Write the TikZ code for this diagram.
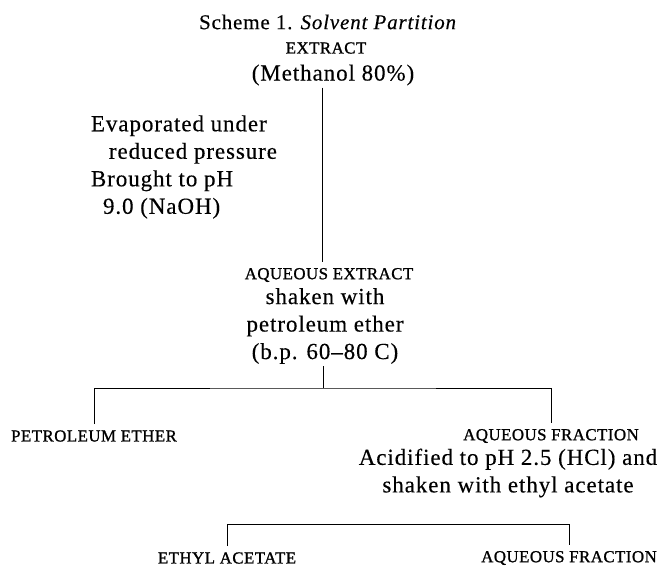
\documentclass[tikz,border=0pt]{standalone}
\usepackage{fontspec}
\setmainfont{Liberation Serif}[LetterSpace=4,FakeBold=0.3]
\newfontfamily\capsfont{Liberation Serif}[LetterSpace=3,FakeBold=1.2]
\usetikzlibrary{positioning}
\tikzset{txt/.style={inner sep=2pt,font=\fontsize{23}{27.5}\selectfont},
  lab/.style={inner sep=6pt,font=\capsfont\fontsize{16.8}{18}\selectfont},
  link/.style={line width=0.9pt}}

\begin{document}
\begin{tikzpicture}[x=1pt,y=-1pt]
        \useasboundingbox (0,0) rectangle (660,570);
        % Heading and starting material
        \node[font=\fontsize{21}{24}\selectfont] (title) at (328,22) 
        {Scheme 1. \textit{Solvent Partition}};
        \node[lab,inner sep=2pt] (extract) at (326,48) {EXTRACT};
        \node[txt] (methanol) at (333,75) {(Methanol 80\%)};
        % Treatment of the extract
        \node[txt,align=left] (steps) at (184,167) 
        {Evaporated under\\\hspace{18pt}reduced pressure\\
         Brought to pH\\\hspace{12pt}9.0 (NaOH)};
        \coordinate (trunk) at (322,0);
        % Aqueous extract
        \node[lab] (aqext) at (329,275) {AQUEOUS EXTRACT};
        \node[txt,align=center] (shake) at (325,326) 
        {shaken with\\petroleum ether\\(b.p. 60--80 C)};
        \draw[link] (methanol.south -| trunk) -- (aqext.north -| trunk);
        % First partition
        \coordinate (fork1) at (323,388);
        \node[lab] (petrol) at (94,436) {PETROLEUM ETHER};
        \node[lab] (aqfrac) at (551,436) {AQUEOUS FRACTION};
        \draw[link] (shake.south -| fork1) -- (fork1);
        \draw[link] (petrol.north) |- (fork1) -| (aqfrac.north);
        \node[txt,align=center] (acid) at (508,473) 
        {Acidified to pH 2.5 (HCl) and\\shaken with ethyl acetate};
        % Second partition
        \coordinate (fork2) at (400,524);
        \node[lab] (ethyl) at (227,558) {ETHYL ACETATE};
        \node[lab] (aqfrac2) at (569,558) {AQUEOUS FRACTION};
        \draw[link] (ethyl.north) |- (fork2) -| (aqfrac2.north);
    \end{tikzpicture}
\end{document}
